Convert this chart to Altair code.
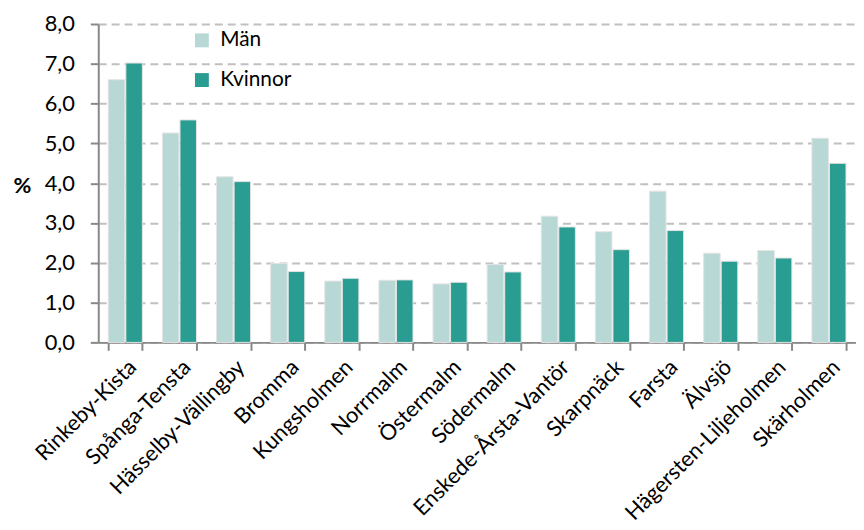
import altair as alt
import pandas as pd

districts = ["Rinkeby-Kista", "Spånga-Tensta", "Hässelby-Vällingby", "Bromma",
             "Kungsholmen", "Norrmalm", "Östermalm", "Södermalm",
             "Enskede-Årsta-Vantör", "Skarpnäck", "Farsta", "Älvsjö",
             "Hägersten-Liljeholmen", "Skärholmen"]
man = [6.60, 5.26, 4.16, 1.98, 1.54, 1.56, 1.47, 1.96, 3.17, 2.78, 3.80, 2.24, 2.31, 5.13]
kvinnor = [7.02, 5.59, 4.04, 1.78, 1.61, 1.57, 1.51, 1.77, 2.90, 2.33, 2.81, 2.04, 2.12, 4.50]
series = ["Män", "Kvinnor"]
colors = ["#B8D8D5", "#2A9D92"]
y_ticks = [0, 1, 2, 3, 4, 5, 6, 7, 8]

rows = []
for d, m, k in zip(districts, man, kvinnor):
    rows.append({"Stadsdel": d, "Kön": "Män", "Värde": m})
    rows.append({"Stadsdel": d, "Kön": "Kvinnor", "Värde": k})
df = pd.DataFrame(rows)

FONT = "Lato"

chart = alt.Chart(df).mark_bar(stroke="#e4e4e4", strokeWidth=1).encode(
    x=alt.X("Stadsdel:N", sort=districts,
            scale=alt.Scale(paddingInner=0.37, paddingOuter=0.185),
            axis=alt.Axis(title=None, labelAngle=-45, labelFontSize=22, labelColor="#000",
                          labelLimit=0,
                          domainColor="#888", domainWidth=2, tickColor="#888", tickWidth=2,
                          tickSize=8, tickBand="extent", labelPadding=6, grid=False)),
    xOffset=alt.XOffset("Kön:N", sort=series, scale=alt.Scale(paddingInner=0.06)),
    y=alt.Y("Värde:Q", scale=alt.Scale(domain=[0, 8]),
            axis=alt.Axis(values=y_ticks,
                          labelExpr="replace(format(datum.value, '.1f'), '.', ',')",
                          title="%", titleAngle=0, titleX=-86, titleY=163, titleAlign="left",
                          titleBaseline="middle", titleFontSize=22, titleFontWeight="bold",
                          titleColor="#000",
                          labelFontSize=22, labelColor="#000", gridDash=[8, 5], gridColor="#c0c0c0",
                          gridWidth=2, domainColor="#888", domainWidth=2, tickColor="#888",
                          tickWidth=2, tickSize=8, labelPadding=16)),
    color=alt.Color("Kön:N", sort=series,
                    scale=alt.Scale(domain=series, range=colors),
                    legend=alt.Legend(title=None, orient="none", legendX=94, legendY=6,
                                      symbolType="square", symbolSize=196, labelFontSize=21,
                                      labelColor="#000", rowPadding=18, symbolStrokeWidth=0,
                                      labelOffset=8))
).properties(
    width=764, height=321,
    padding={"left": 5, "top": 3, "right": 0, "bottom": 0}
).configure(font=FONT).configure_view(stroke=None)

chart.save("out.html", embed_options={"renderer": "svg", "actions": False})
